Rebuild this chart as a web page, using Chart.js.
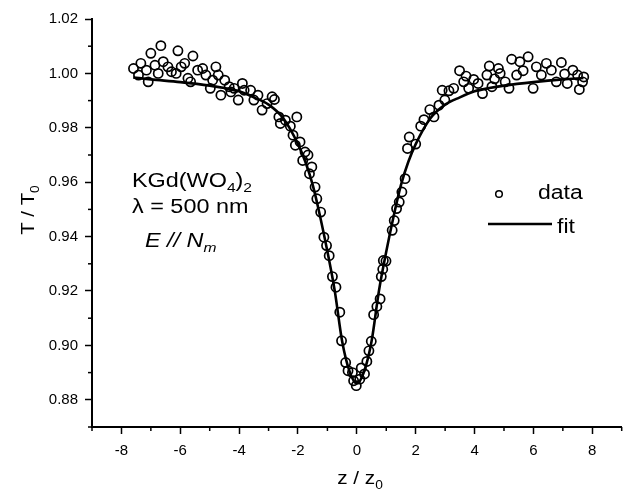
<!DOCTYPE html>
<html><head><meta charset="utf-8">
<script src="https://cdn.jsdelivr.net/npm/chart.js@4"></script>
<style>html,body{margin:0;padding:0;background:#fff}#wrap{width:628px;height:492px}</style>
</head><body><div id="wrap"><canvas id="c" width="628" height="492"></canvas></div>
<script>
const zData = [-7.59,-7.42,-7.34,-7.15,-7.09,-7.00,-6.86,-6.75,-6.66,-6.58,-6.42,-6.30,-6.14,-6.08,-5.97,-5.85,-5.74,-5.65,-5.57,-5.41,-5.24,-5.13,-4.98,-4.90,-4.79,-4.71,-4.62,-4.49,-4.34,-4.28,-4.17,-4.03,-3.89,-3.83,-3.61,-3.50,-3.36,-3.22,-3.05,-2.88,-2.80,-2.65,-2.60,-2.43,-2.26,-2.17,-2.09,-2.04,-1.93,-1.84,-1.76,-1.66,-1.61,-1.53,-1.42,-1.36,-1.23,-1.12,-1.03,-0.94,-0.83,-0.71,-0.58,-0.52,-0.38,-0.30,-0.15,-0.11,-0.02,0.10,0.15,0.26,0.34,0.41,0.49,0.57,0.68,0.79,0.83,0.88,0.90,0.99,1.20,1.27,1.35,1.44,1.53,1.64,1.72,1.78,2.00,2.17,2.28,2.48,2.62,2.79,2.90,2.99,3.13,3.29,3.49,3.63,3.71,3.80,3.97,4.12,4.27,4.42,4.50,4.59,4.68,4.81,4.87,5.04,5.17,5.26,5.43,5.54,5.65,5.82,5.99,6.10,6.27,6.44,6.61,6.78,6.95,7.06,7.15,7.34,7.50,7.56,7.67,7.71];
const tData = [1.0018,0.9994,1.0037,1.0012,0.9969,1.0074,1.0030,1.0000,1.0102,1.0043,1.0024,1.0006,1.0000,1.0083,1.0024,1.0037,0.9982,0.9969,1.0064,1.0012,1.0018,0.9994,0.9945,0.9975,1.0024,0.9994,0.9920,0.9975,0.9951,0.9932,0.9945,0.9902,0.9963,0.9938,0.9938,0.9902,0.9920,0.9865,0.9889,0.9914,0.9904,0.9840,0.9816,0.9828,0.9806,0.9773,0.9736,0.9840,0.9748,0.9680,0.9711,0.9700,0.9631,0.9656,0.9582,0.9539,0.9490,0.9398,0.9367,0.9330,0.9253,0.9214,0.9122,0.9017,0.8937,0.8907,0.8900,0.8870,0.8852,0.8876,0.8917,0.8895,0.8941,0.8980,0.9015,0.9113,0.9143,0.9171,0.9253,0.9280,0.9312,0.9310,0.9423,0.9459,0.9503,0.9527,0.9564,0.9613,0.9724,0.9766,0.9740,0.9806,0.9830,0.9867,0.9840,0.9883,0.9938,0.9902,0.9936,0.9945,1.0010,0.9969,0.9990,0.9945,0.9978,0.9963,0.9926,0.9994,1.0027,0.9951,0.9980,1.0018,1.0000,0.9969,0.9945,1.0052,0.9994,1.0043,1.0010,1.0061,0.9945,1.0024,0.9994,1.0037,1.0012,0.9969,1.0040,0.9998,0.9963,1.0012,0.9994,0.9941,0.9969,0.9987];
const zFit = [-7.6,-7,-6,-5,-4.5,-4,-3.5,-3,-2.5,-2,-1.75,-1.5,-1.25,-1,-0.75,-0.5,-0.25,0,0.25,0.5,0.75,1,1.25,1.5,1.75,2,2.5,3,3.5,4,4.5,5,6,7,7.7];
const tFit = [0.9985,0.9978,0.9968,0.9955,0.9946,0.9934,0.9912,0.9885,0.9835,0.9740,0.9675,0.9590,0.9475,0.9345,0.9200,0.9015,0.8905,0.8860,0.8905,0.9015,0.9200,0.9345,0.9475,0.9590,0.9675,0.9740,0.9835,0.9885,0.9912,0.9934,0.9946,0.9955,0.9968,0.9978,0.9983];
const xMajor = [-8,-6,-4,-2,0,2,4,6,8];
const xMinor = [-9,-7,-5,-3,-1,1,3,5,7,9];
const yMajor = [0.88,0.90,0.92,0.94,0.96,0.98,1.00,1.02];
const yMinor = [0.87,0.89,0.91,0.93,0.95,0.97,0.99,1.01];

const FONT = '"Liberation Sans", Arial, sans-serif';

function richText(ctx, parts, x, y, sx, align) {
  let total = 0;
  parts.forEach(p => { ctx.font = (p[3]?'italic ':'') + p[1] + 'px ' + FONT; total += ctx.measureText(p[0]).width; });
  ctx.save();
  ctx.translate(x, y);
  ctx.scale(sx, 1);
  let cx = align === 'center' ? -total/2 : 0;
  ctx.textAlign = 'left';
  ctx.textBaseline = 'alphabetic';
  parts.forEach(p => {
    ctx.font = (p[3]?'italic ':'') + p[1] + 'px ' + FONT;
    ctx.fillText(p[0], cx, p[2]);
    cx += ctx.measureText(p[0]).width;
  });
  ctx.restore();
}

const decor = {
  id: 'decor',
  afterDraw(chart) {
    const ctx = chart.ctx, xs = chart.scales.x, ys = chart.scales.y, ca = chart.chartArea;
    ctx.save();
    ctx.strokeStyle = '#000'; ctx.fillStyle = '#000'; ctx.lineWidth = 1.5;
    xMinor.forEach(v => { const p = xs.getPixelForValue(v); ctx.beginPath(); ctx.moveTo(p, ca.bottom); ctx.lineTo(p, ca.bottom + 4); ctx.stroke(); });
    yMinor.forEach(v => { const p = ys.getPixelForValue(v); ctx.beginPath(); ctx.moveTo(ca.left, p); ctx.lineTo(ca.left - 4, p); ctx.stroke(); });
    richText(ctx, [['z / z',18,0],['0',12,5]], 360, 484, 1.15, 'center');
    ctx.save();
    ctx.translate(34, 210);
    ctx.rotate(-Math.PI/2);
    richText(ctx, [['T / T',18.5,0],['0',12.5,5]], 0, 0, 1.1, 'center');
    ctx.restore();
    richText(ctx, [['KGd(WO',19.5,0],['4',13,5],[')',19.5,0],['2',13,5]], 132, 187, 1.2, 'left');
    richText(ctx, [['\u03bb = 500 nm',19.5,0]], 132, 213, 1.2, 'left');
    richText(ctx, [['E // N',19.5,0,true],['m',13,5,true]], 145, 246.5, 1.2, 'left');
    ctx.lineWidth = 1.5;
    ctx.beginPath(); ctx.arc(499, 194, 3.3, 0, Math.PI*2); ctx.stroke();
    richText(ctx, [['data',19.5,0]], 538, 199, 1.18, 'left');
    ctx.lineWidth = 2.6;
    ctx.beginPath(); ctx.moveTo(488, 224); ctx.lineTo(552, 224); ctx.stroke();
    richText(ctx, [['fit',19.5,0]], 557, 232.5, 1.18, 'left');
    ctx.restore();
  }
};

new Chart(document.getElementById('c'), {
  type: 'scatter',
  data: {
    datasets: [
      {
        label: 'data',
        data: zData.map((z, i) => ({x: z, y: tData[i]})),
        pointStyle: 'circle', pointRadius: 4.6, pointBorderWidth: 1.7,
        borderColor: '#000', backgroundColor: 'rgba(0,0,0,0)', pointHoverRadius: 4.6
      },
      {
        label: 'fit',
        data: zFit.map((z, i) => ({x: z, y: tFit[i]})),
        showLine: true, pointRadius: 0, borderColor: '#000', borderWidth: 2.6,
        cubicInterpolationMode: 'monotone', fill: false
      }
    ]
  },
  options: {
    responsive: false, animation: false, devicePixelRatio: 1,
    layout: {padding: {left: 0, right: 0, top: 19, bottom: 0}},
    plugins: {legend: {display: false}, tooltip: {enabled: false}},
    scales: {
      x: {
        type: 'linear', min: -9, max: 9,
        afterBuildTicks: s => { s.ticks = xMajor.map(v => ({value: v})); },
        afterFit: s => { s.height = 65; },
        grid: {display: true, drawOnChartArea: false, drawTicks: true, tickLength: 7, tickWidth: 1.5, tickColor: '#000'},
        border: {display: true, color: '#000', width: 2},
        ticks: {color: '#000', font: {family: FONT, size: 15}, padding: 8, maxRotation: 0, callback: v => String(v)}
      },
      y: {
        type: 'linear', min: 0.87, max: 1.02,
        afterBuildTicks: s => { s.ticks = yMajor.map(v => ({value: v})); },
        afterFit: s => { s.width = 92; },
        grid: {display: true, drawOnChartArea: false, drawTicks: true, tickLength: 7, tickWidth: 1.5, tickColor: '#000'},
        border: {display: true, color: '#000', width: 2},
        ticks: {color: '#000', font: {family: FONT, size: 15}, padding: 7, callback: v => Number(v).toFixed(2)}
      }
    }
  },
  plugins: [decor]
});
</script>
</body></html>
